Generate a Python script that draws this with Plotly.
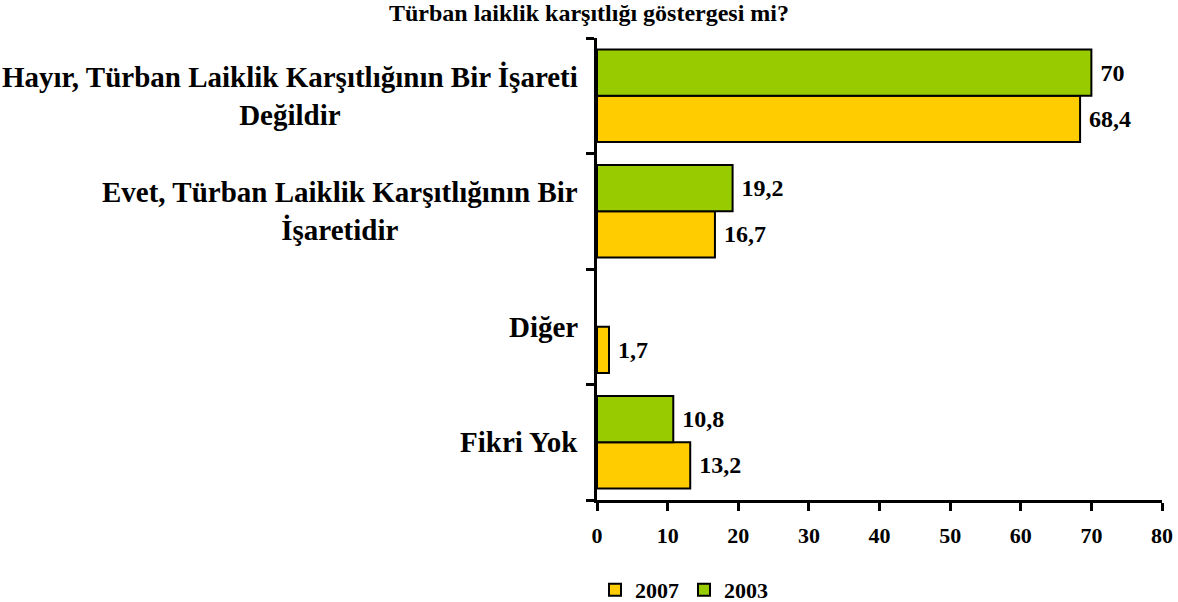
import plotly.graph_objects as go

categories = [
    "Hayır, Türban Laiklik Karşıtlığının Bir İşareti<br>Değildir",
    "Evet, Türban Laiklik Karşıtlığının Bir<br>İşaretidir",
    "Diğer",
    "Fikri Yok",
]
values_2007 = [68.4, 16.7, 1.7, 13.2]
values_2003 = [70, 19.2, None, 10.8]
series_names = ["2007", "2003"]
x_ticks = [0, 10, 20, 30, 40, 50, 60, 70, 80]
title_text = "Türban laiklik karşıtlığı göstergesi mi?"

FONT = "Liberation Serif"


def fmt(v):
    if v is None:
        return ""
    return "\u00a0" + f"{v:g}".replace(".", ",")


fig = go.Figure()
for name, vals, color in [
    (series_names[0], values_2007, "#FFCC00"),
    (series_names[1], values_2003, "#99CC00"),
]:
    fig.add_trace(
        go.Bar(
            name=name,
            y=categories,
            x=vals,
            orientation="h",
            marker=dict(color=color, line=dict(color="black", width=2)),
            text=[fmt(v) for v in vals],
            textposition="outside",
            constraintext="none",
            cliponaxis=False,
            textfont=dict(family=FONT, size=24, color="black", weight="bold"),
        )
    )

for cat in categories:
    fig.add_annotation(
        x=0, xref="paper", y=cat, yref="y",
        text=cat, showarrow=False,
        xanchor="right", yanchor="middle", align="center",
        xshift=-17,
        font=dict(family=FONT, size=29, color="black", weight="bold"),
    )

fig.update_layout(
    width=1178, height=602,
    margin=dict(l=597, r=16, t=38, b=102, autoexpand=False),
    paper_bgcolor="white", plot_bgcolor="white",
    barmode="group", bargap=0.2, bargroupgap=0,
    font=dict(family=FONT, color="black", weight="bold"),
    title=dict(
        text=title_text, x=0.5, xanchor="center", y=1 - 13 / 602, yanchor="middle",
        font=dict(family=FONT, size=24, color="black", weight="bold"),
    ),
    showlegend=True,
    legend=dict(
        orientation="h",
        xref="container", x=684 / 1178, xanchor="center",
        yref="container", y=1 - 590 / 602, yanchor="middle",
        font=dict(family=FONT, size=22, color="black", weight="bold"),
        traceorder="normal", itemwidth=30,
    ),
)

fig.update_xaxes(
    range=[0, 80], tickvals=x_ticks, ticktext=[str(t) for t in x_ticks],
    showline=True, linecolor="black", linewidth=3,
    ticks="outside", ticklen=8, tickwidth=3, tickcolor="black",
    showgrid=False, zeroline=False,
    tickfont=dict(family=FONT, size=22, color="black", weight="bold"),
    ticklabelstandoff=6,
)
fig.update_yaxes(
    type="category", categoryorder="array", categoryarray=list(reversed(categories)),
    showline=True, linecolor="black", linewidth=3,
    ticks="outside", ticklen=8, tickwidth=3, tickcolor="black",
    tickson="boundaries", showticklabels=False,
    showgrid=False, zeroline=False,
)

fig.write_html(
    "out.html",
    config={"displayModeBar": False},
    post_script="document.body.style.margin='0';document.body.style.overflow='hidden';",
)
